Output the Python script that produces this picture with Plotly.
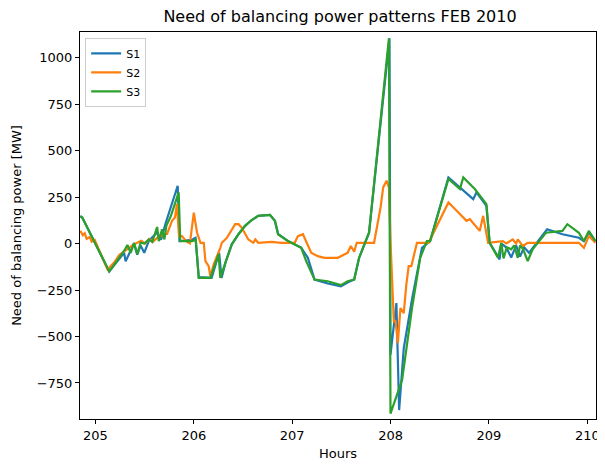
import plotly.graph_objects as go

# Hours and values (breakpoints of each series)
HOURS_S1 = [
    204.846, 204.866, 205.140, 205.291, 205.307, 205.355, 205.392, 205.425, 205.459,
    205.496, 205.543, 205.627, 205.667, 205.711, 205.836, 205.854, 205.983, 206.017,
    206.050, 206.181, 206.257, 206.282, 206.323, 206.386, 206.454, 206.521, 206.585,
    206.655, 206.773, 206.824, 206.857, 206.958, 207.058, 207.092, 207.159, 207.227,
    207.361, 207.495, 207.563, 207.630, 207.680, 207.731, 207.781, 207.989, 207.999,
    208.059, 208.087, 208.134, 208.218, 208.319, 208.402, 208.588, 208.840, 208.873,
    208.974, 209.007, 209.108, 209.125, 209.175, 209.226, 209.276, 209.316, 209.357,
    209.407, 209.478, 209.591, 209.747, 209.914, 209.965, 210.015, 210.082,
]
S1 = [
    148, 140, -150, -50, -95, -40, 0, -60, -10,
    -50, 15, 60, 20, 105, 311, 13, 20, 31,
    -180, -185, -50, -185, -100, -4, 50, 95, 125,
    149, 154, 122, 50, 13, -13, -23, -77, -194,
    -215, -230, -210, -194, -77, -10, 58, 1104, -598,
    -320, -896, -563, -300, -23, 13, 356, 239, 275,
    203, 4, -85, 0, -20, -75, -10, -70, -20,
    -50, 0, 77, 50, 31, 13, 60, 13,
]

HOURS_S2 = [
    204.846, 204.871, 204.891, 204.911, 204.941, 204.962, 204.992, 205.123, 205.194,
    205.244, 205.325, 205.375, 205.425, 205.466, 205.506, 205.546, 205.587, 205.627,
    205.667, 205.698, 205.728, 205.778, 205.808, 205.829, 205.849, 205.879, 205.929,
    205.960, 206.000, 206.033, 206.068, 206.101, 206.118, 206.151, 206.168, 206.202,
    206.269, 206.285, 206.336, 206.386, 206.420, 206.454, 206.487, 206.554, 206.605,
    206.625, 206.655, 206.789, 206.887, 207.025, 207.058, 207.109, 207.193, 207.260,
    207.328, 207.462, 207.563, 207.596, 207.630, 207.656, 207.832, 207.898, 207.925,
    207.959, 207.983, 207.999, 208.033, 208.051, 208.074, 208.100, 208.134, 208.160,
    208.184, 208.211, 208.268, 208.386, 208.588, 208.639, 208.772, 208.806, 208.906,
    208.941, 208.991, 209.142, 209.175, 209.242, 209.276, 209.293, 209.344, 209.394,
    209.914, 209.965, 210.015, 210.082,
]
S2 = [
    68, 45, 55, 25, 35, 10, 20, -140, -100,
    -60, -30, -10, 4, 15, 0, 25, 10, 30,
    40, 50, 51, 122, 140, 213, 40, 40, 10,
    0, 166, 58, 4, 4, -95, -122, -176, -112,
    -23, 4, 31, 77, 104, 104, 85, 22, 4,
    22, 4, 9, 4, 4, 40, 50, -50, -68,
    -77, -77, -50, -13, -44, 4, 4, 194, 302,
    338, 302, 13, -419, -419, -536, -347, -374, -221,
    -122, -122, 4, 4, 221, 194, 122, 131, 68,
    149, 4, 13, 0, 22, 0, 22, -13, 4,
    4, -23, 40, 4,
]

HOURS_S3 = [
    204.846, 204.866, 205.140, 205.291, 205.325, 205.358, 205.392, 205.425, 205.459,
    205.496, 205.543, 205.577, 205.627, 205.644, 205.677, 205.701, 205.721, 205.768,
    205.846, 205.862, 205.983, 206.020, 206.050, 206.168, 206.252, 206.269, 206.323,
    206.386, 206.454, 206.521, 206.585, 206.655, 206.773, 206.824, 206.857, 206.958,
    207.058, 207.092, 207.142, 207.193, 207.227, 207.361, 207.495, 207.563, 207.630,
    207.680, 207.731, 207.781, 207.983, 207.999, 208.117, 208.218, 208.301, 208.369,
    208.402, 208.588, 208.705, 208.739, 208.856, 208.974, 209.007, 209.058, 209.092,
    209.125, 209.148, 209.182, 209.226, 209.256, 209.293, 209.316, 209.347, 209.394,
    209.444, 209.511, 209.579, 209.747, 209.797, 209.914, 209.965, 210.015, 210.082,
]
S3 = [
    148, 140, -150, -40, -8, -50, 4, -57, 4,
    0, 22, 8, 89, 13, 77, 22, 95, 150,
    275, 13, 13, 20, -185, -185, -57, -185, -100,
    -4, 50, 95, 125, 149, 154, 122, 50, 13,
    -13, -23, -95, -149, -194, -203, -224, -203, -194,
    -77, -10, 58, 1104, -915, -734, -347, -77, 13,
    13, 347, 293, 356, 293, 212, 4, -41, -77,
    4, -80, -20, -31, -10, -77, -10, -30, -95,
    -31, 13, 58, 68, 104, 58, 13, 68, 13,
]

SERIES = [
    ("S1", HOURS_S1, S1, "#1f77b4"),
    ("S2", HOURS_S2, S2, "#ff7f0e"),
    ("S3", HOURS_S3, S3, "#2ca02c"),
]

FONT = "DejaVu Sans"
# the html page keeps the default 8px body margin, so the figure is 8px smaller
W, H = 597, 456

fig = go.Figure()
for name, hours, vals, color in SERIES:
    fig.add_trace(go.Scatter(
        x=hours,
        y=vals,
        mode="lines",
        name=name,
        line={"color": color, "width": 2.2},
    ))

axis_common = {
    "showgrid": False,
    "zeroline": False,
    "showline": True,
    "linecolor": "black",
    "linewidth": 1,
    "mirror": True,
    "ticks": "outside",
    "ticklen": 4,
    "tickcolor": "black",
    "tickfont": {"family": FONT, "size": 13, "color": "black"},
}

fig.update_layout(
    width=W,
    height=H,
    paper_bgcolor="white",
    plot_bgcolor="white",
    margin={"l": 72, "r": 5, "t": 24, "b": 45},
    title={
        "text": "Need of balancing power patterns FEB 2010",
        "font": {"family": FONT, "size": 16, "color": "black"},
        "x": (72 + (W - 5)) / 2 / W,
        "xanchor": "center",
        "y": 1 - 8 / H,
        "yanchor": "middle",
    },
    xaxis={
        **axis_common,
        "range": [204.843, 210.088],
        "tickmode": "linear",
        "tick0": 205,
        "dtick": 1,
        "title": {"text": "Hours", "font": {"family": FONT, "size": 13, "color": "black"}, "standoff": 7},
    },
    yaxis={
        **axis_common,
        "range": [-944, 1138],
        "tickmode": "linear",
        "tick0": 0,
        "dtick": 250,
        "title": {"text": "Need of balancing power [MW]", "font": {"family": FONT, "size": 13, "color": "black"}, "standoff": 12},
    },
    legend={
        "x": 0.01,
        "y": 0.985,
        "xanchor": "left",
        "yanchor": "top",
        "bgcolor": "rgba(255,255,255,0.8)",
        "bordercolor": "#cccccc",
        "borderwidth": 1,
        "font": {"family": FONT, "size": 11, "color": "black"},
    },
    showlegend=True,
)

fig.write_html("out.html")
